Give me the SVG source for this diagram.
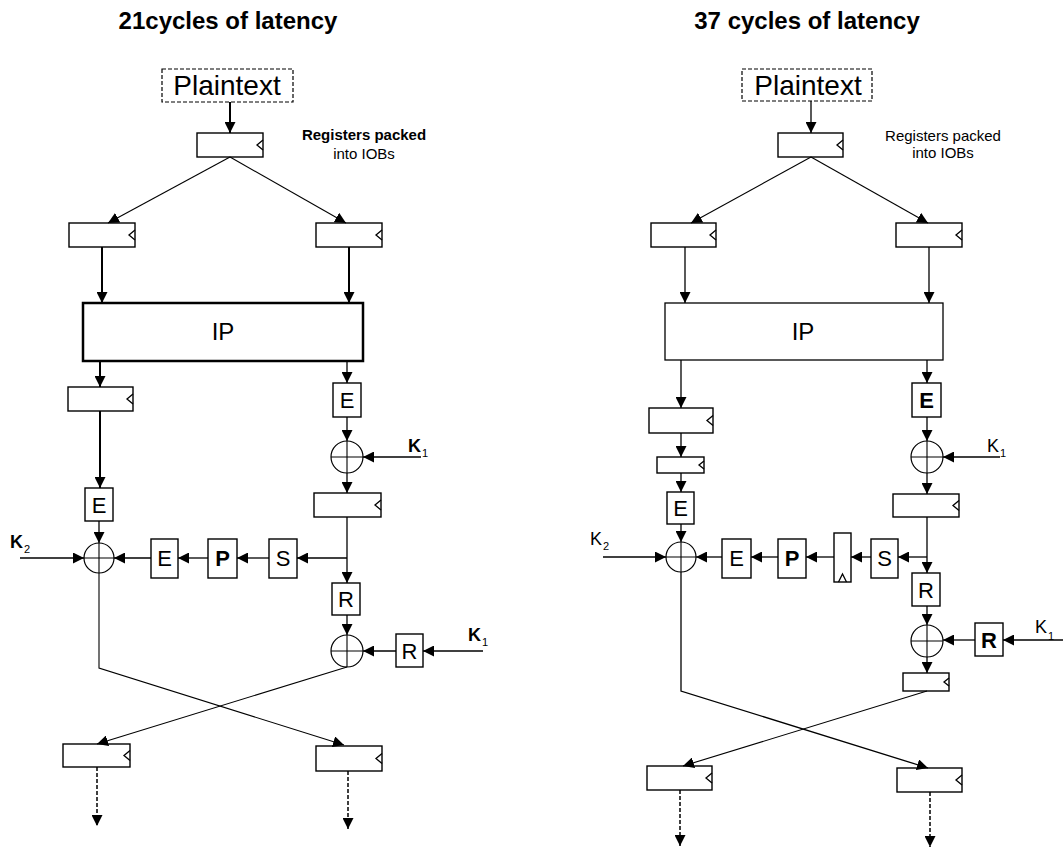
<svg xmlns="http://www.w3.org/2000/svg" width="1063" height="848" viewBox="0 0 1063 848">
<style>
text{font-family:"Liberation Sans",Arial,sans-serif;fill:#000}
.title{font-size:24px;font-weight:bold;text-anchor:middle}
.pt{font-size:28px;text-anchor:middle}
.ip{font-size:24px;text-anchor:middle}
.lbl{font-size:22px;text-anchor:middle}
.k{font-size:18px}
.kb{font-size:18px;font-weight:bold}
.sub{font-size:11px}
.note{font-size:15px;text-anchor:middle}
.reg,.box{fill:#fff;stroke:#000;stroke-width:1.4}
.clk{fill:none;stroke:#000;stroke-width:1.3}
.ln{fill:none;stroke:#000;stroke-width:1.3}
.lt{fill:none;stroke:#000;stroke-width:1.1}
.th{fill:none;stroke:#000;stroke-width:2}
.dash{fill:none;stroke:#000;stroke-width:1.5;stroke-dasharray:4,2}
.dbox{fill:#fff;stroke:#000;stroke-width:1.2;stroke-dasharray:4,2}
.xor{fill:#fff;stroke:#000;stroke-width:1.2}
</style>
<defs>
<marker id="ah" markerWidth="11" markerHeight="11" refX="11" refY="5.5" orient="auto" markerUnits="userSpaceOnUse"><path d="M0,0 L11,5.5 L0,11 z" fill="#000"/></marker>
</defs>

<!-- titles -->
<text class="title" x="228" y="29">21cycles of latency</text>
<text class="title" x="807" y="29">37 cycles of latency</text>

<!-- LEFT PANEL nodes -->
<g id="L-plaintext"><rect class="dbox" x="162" y="69" width="131" height="33"/><text class="pt" x="227" y="95">Plaintext</text></g>
<g id="L-note"><text class="note" x="364" y="140" font-weight="bold">Registers packed</text><text class="note" x="364" y="159">into IOBs</text></g>
<g id="L-reg0"><rect class="reg" x="197" y="133" width="66" height="24"/><path class="clk" d="M263,140 L257,145 L263,150"/></g>
<g id="L-regA"><rect class="reg" x="69" y="223" width="66" height="24"/><path class="clk" d="M135,230 L129,235 L135,240"/></g>
<g id="L-regB"><rect class="reg" x="316" y="223" width="66" height="24"/><path class="clk" d="M382,230 L376,235 L382,240"/></g>
<g id="L-IP"><rect x="83" y="303" width="280" height="58" fill="#fff" stroke="#000" stroke-width="2.5"/><text class="ip" x="223" y="340">IP</text></g>
<g id="L-regC"><rect class="reg" x="68" y="387" width="65" height="24"/><path class="clk" d="M133,394 L127,399 L133,404"/></g>
<g id="L-E1"><rect class="box" x="85" y="488" width="28" height="33"/><text class="lbl" x="99" y="513">E</text></g>
<g id="L-xor2"><circle class="xor" cx="99" cy="558" r="15"/><path class="lt" d="M84,558 H114 M99,543 V573"/></g>
<g id="L-K2"><text class="kb" x="10" y="548">K</text><text class="sub" x="24" y="553">2</text></g>
<g id="L-E2"><rect class="box" x="151" y="539" width="27" height="39"/><text class="lbl" x="164.5" y="566">E</text></g>
<g id="L-P"><rect class="box" x="208" y="539" width="29" height="39"/><text class="lbl" x="222.5" y="566" font-weight="bold">P</text></g>
<g id="L-S"><rect class="box" x="269" y="539" width="28" height="39"/><text class="lbl" x="283" y="566">S</text></g>
<g id="L-E3"><rect class="box" x="333" y="383" width="28" height="34"/><text class="lbl" x="347" y="408">E</text></g>
<g id="L-xor1"><circle class="xor" cx="347" cy="457" r="16"/><path class="lt" d="M331,457 H363 M347,441 V473"/></g>
<g id="L-K1a"><text class="kb" x="408" y="452">K</text><text class="sub" x="422" y="457">1</text></g>
<g id="L-regD"><rect class="reg" x="314" y="493" width="67" height="24"/><path class="clk" d="M381,500 L375,505 L381,510"/></g>
<g id="L-R1"><rect class="box" x="332" y="583" width="28" height="32"/><text class="lbl" x="346" y="607">R</text></g>
<g id="L-xor3"><circle class="xor" cx="347" cy="651" r="16"/><path class="lt" d="M331,651 H363 M347,635 V667"/></g>
<g id="L-R2"><rect class="box" x="396" y="634" width="27" height="33"/><text class="lbl" x="409.5" y="659">R</text></g>
<g id="L-K1b"><text class="kb" x="468" y="641">K</text><text class="sub" x="482" y="646">1</text></g>
<g id="L-regE"><rect class="reg" x="63" y="744" width="67" height="23"/><path class="clk" d="M130,750.5 L124,755.5 L130,760.5"/></g>
<g id="L-regF"><rect class="reg" x="316" y="746" width="66" height="25"/><path class="clk" d="M382,753.5 L376,758.5 L382,763.5"/></g>

<!-- RIGHT PANEL nodes -->
<g id="R-plaintext"><rect class="dbox" x="742" y="69" width="130" height="32"/><text class="pt" x="808" y="95">Plaintext</text></g>
<g id="R-note"><text class="note" x="943" y="141" font-size="16">Registers packed</text><text class="note" x="943" y="158" font-size="16">into IOBs</text></g>
<g id="R-reg0"><rect class="reg" x="778" y="133" width="65" height="24"/><path class="clk" d="M843,140 L837,145 L843,150"/></g>
<g id="R-regA"><rect class="reg" x="651" y="223" width="65" height="24"/><path class="clk" d="M716,230 L710,235 L716,240"/></g>
<g id="R-regB"><rect class="reg" x="896" y="223" width="66" height="24"/><path class="clk" d="M962,230 L956,235 L962,240"/></g>
<g id="R-IP"><rect x="665" y="303" width="278" height="57" fill="#fff" stroke="#000" stroke-width="1.3"/><text class="ip" x="803" y="340">IP</text></g>
<g id="R-regC"><rect class="reg" x="649" y="408" width="64" height="25"/><path class="clk" d="M713,415.5 L707,420.5 L713,425.5"/></g>
<g id="R-regC2"><rect class="reg" x="657" y="457" width="47" height="16"/><path class="clk" d="M704,461 L699,465 L704,469"/></g>
<g id="R-E1"><rect class="box" x="667" y="492" width="27" height="32"/><text class="lbl" x="680.5" y="516">E</text></g>
<g id="R-xor2"><circle class="xor" cx="681" cy="557" r="15"/><path class="lt" d="M666,557 H696 M681,542 V572"/></g>
<g id="R-K2"><text class="k" x="590" y="545">K</text><text class="sub" x="603" y="550">2</text></g>
<g id="R-E2"><rect class="box" x="722" y="539" width="29" height="39"/><text class="lbl" x="736.5" y="566">E</text></g>
<g id="R-P"><rect class="box" x="778" y="539" width="28" height="39"/><text class="lbl" x="792" y="566" font-weight="bold">P</text></g>
<g id="R-regT"><rect class="reg" x="834" y="533" width="17" height="49"/><path class="clk" d="M838.5,582 L842.5,574 L846.5,582"/></g>
<g id="R-S"><rect class="box" x="871" y="539" width="27" height="39"/><text class="lbl" x="884.5" y="566">S</text></g>
<g id="R-E3"><rect class="box" x="912" y="383" width="29" height="34"/><text class="lbl" x="926.5" y="408" font-weight="bold">E</text></g>
<g id="R-xor1"><circle class="xor" cx="927" cy="457" r="16"/><path class="lt" d="M911,457 H943 M927,441 V473"/></g>
<g id="R-K1a"><text class="k" x="987" y="452">K</text><text class="sub" x="1000" y="457">1</text></g>
<g id="R-regD"><rect class="reg" x="893" y="494" width="66" height="23"/><path class="clk" d="M959,500.5 L953,505.5 L959,510.5"/></g>
<g id="R-R1"><rect class="box" x="912" y="573" width="28" height="33"/><text class="lbl" x="926" y="598">R</text></g>
<g id="R-xor3"><circle class="xor" cx="927" cy="641" r="16"/><path class="lt" d="M911,641 H943 M927,625 V657"/></g>
<g id="R-R2"><rect class="box" x="975" y="623" width="28" height="33"/><text class="lbl" x="989" y="648" font-weight="bold">R</text></g>
<g id="R-K1b"><text class="k" x="1035" y="633">K</text><text class="sub" x="1048" y="640">1</text></g>
<g id="R-regE"><rect class="reg" x="903" y="673" width="46" height="18"/><path class="clk" d="M949,678 L944,682 L949,686"/></g>
<g id="R-regF"><rect class="reg" x="647" y="766" width="65" height="24"/><path class="clk" d="M712,773 L706,778 L712,783"/></g>
<g id="R-regG"><rect class="reg" x="897" y="768" width="65" height="24"/><path class="clk" d="M962,775 L956,780 L962,785"/></g>

<!-- connectors -->
<g id="connectors">
<!-- left -->
<line class="th" x1="230" y1="102" x2="230" y2="133" marker-end="url(#ah)"/>
<line class="lt" x1="230" y1="157" x2="108" y2="223" marker-end="url(#ah)"/>
<line class="lt" x1="230" y1="157" x2="346" y2="223" marker-end="url(#ah)"/>
<line class="th" x1="102" y1="247" x2="102" y2="303" marker-end="url(#ah)"/>
<line class="th" x1="349" y1="247" x2="349" y2="303" marker-end="url(#ah)"/>
<line class="th" x1="100" y1="361" x2="100" y2="387" marker-end="url(#ah)"/>
<line class="th" x1="100" y1="411" x2="100" y2="488" marker-end="url(#ah)"/>
<line class="ln" x1="99" y1="521" x2="99" y2="543" marker-end="url(#ah)"/>
<line class="ln" x1="20" y1="558" x2="84" y2="558" marker-end="url(#ah)"/>
<line class="ln" x1="151" y1="558" x2="114" y2="558" marker-end="url(#ah)"/>
<line class="ln" x1="208" y1="558" x2="178" y2="558" marker-end="url(#ah)"/>
<line class="ln" x1="269" y1="558" x2="237" y2="558" marker-end="url(#ah)"/>
<line class="ln" x1="347" y1="558" x2="297" y2="558" marker-end="url(#ah)"/>
<line class="ln" x1="347" y1="361" x2="347" y2="383" marker-end="url(#ah)"/>
<line class="ln" x1="347" y1="417" x2="347" y2="441" marker-end="url(#ah)"/>
<line class="ln" x1="421" y1="457" x2="363" y2="457" marker-end="url(#ah)"/>
<line class="ln" x1="347" y1="473" x2="347" y2="493" marker-end="url(#ah)"/>
<line class="ln" x1="347" y1="517" x2="347" y2="583" marker-end="url(#ah)"/>
<line class="ln" x1="347" y1="615" x2="347" y2="635" marker-end="url(#ah)"/>
<line class="ln" x1="483" y1="651" x2="423" y2="651" marker-end="url(#ah)"/>
<line class="ln" x1="396" y1="651" x2="363" y2="651" marker-end="url(#ah)"/>
<polyline class="lt" points="99,573 99,668 344,745" marker-end="url(#ah)"/>
<line class="lt" x1="347" y1="667" x2="97" y2="744" marker-end="url(#ah)"/>
<line class="dash" x1="97" y1="767" x2="97" y2="826" marker-end="url(#ah)"/>
<line class="dash" x1="348" y1="771" x2="348" y2="829" marker-end="url(#ah)"/>
<!-- right -->
<line class="ln" x1="811" y1="101" x2="811" y2="133" marker-end="url(#ah)"/>
<line class="lt" x1="811" y1="157" x2="691" y2="223" marker-end="url(#ah)"/>
<line class="lt" x1="811" y1="157" x2="928" y2="223" marker-end="url(#ah)"/>
<line class="ln" x1="685" y1="247" x2="685" y2="303" marker-end="url(#ah)"/>
<line class="ln" x1="929" y1="247" x2="929" y2="303" marker-end="url(#ah)"/>
<line class="ln" x1="681" y1="360" x2="681" y2="408" marker-end="url(#ah)"/>
<line class="ln" x1="681" y1="433" x2="681" y2="457" marker-end="url(#ah)"/>
<line class="ln" x1="681" y1="473" x2="681" y2="492" marker-end="url(#ah)"/>
<line class="ln" x1="681" y1="524" x2="681" y2="542" marker-end="url(#ah)"/>
<line class="ln" x1="603" y1="557" x2="666" y2="557" marker-end="url(#ah)"/>
<line class="ln" x1="722" y1="557" x2="696" y2="557" marker-end="url(#ah)"/>
<line class="ln" x1="778" y1="557" x2="751" y2="557" marker-end="url(#ah)"/>
<line class="ln" x1="834" y1="557" x2="806" y2="557" marker-end="url(#ah)"/>
<line class="ln" x1="871" y1="557" x2="851" y2="557" marker-end="url(#ah)"/>
<line class="ln" x1="927" y1="557" x2="898" y2="557" marker-end="url(#ah)"/>
<line class="ln" x1="927" y1="360" x2="927" y2="383" marker-end="url(#ah)"/>
<line class="ln" x1="927" y1="417" x2="927" y2="441" marker-end="url(#ah)"/>
<line class="ln" x1="1000" y1="457" x2="943" y2="457" marker-end="url(#ah)"/>
<line class="ln" x1="927" y1="473" x2="927" y2="494" marker-end="url(#ah)"/>
<line class="ln" x1="927" y1="517" x2="927" y2="573" marker-end="url(#ah)"/>
<line class="ln" x1="927" y1="606" x2="927" y2="625" marker-end="url(#ah)"/>
<line class="ln" x1="1063" y1="640" x2="1003" y2="640" marker-end="url(#ah)"/>
<line class="ln" x1="975" y1="640" x2="943" y2="640" marker-end="url(#ah)"/>
<line class="ln" x1="927" y1="657" x2="927" y2="673" marker-end="url(#ah)"/>
<polyline class="ln" points="681,572 681,691 928,768" marker-end="url(#ah)"/>
<line class="lt" x1="927" y1="691" x2="683" y2="766" marker-end="url(#ah)"/>
<line class="dash" x1="680" y1="790" x2="680" y2="846" stroke-width="1.2" marker-end="url(#ah)"/>
<line class="dash" x1="930" y1="792" x2="930" y2="847" stroke-width="1.2" marker-end="url(#ah)"/>
</g>
</svg>
